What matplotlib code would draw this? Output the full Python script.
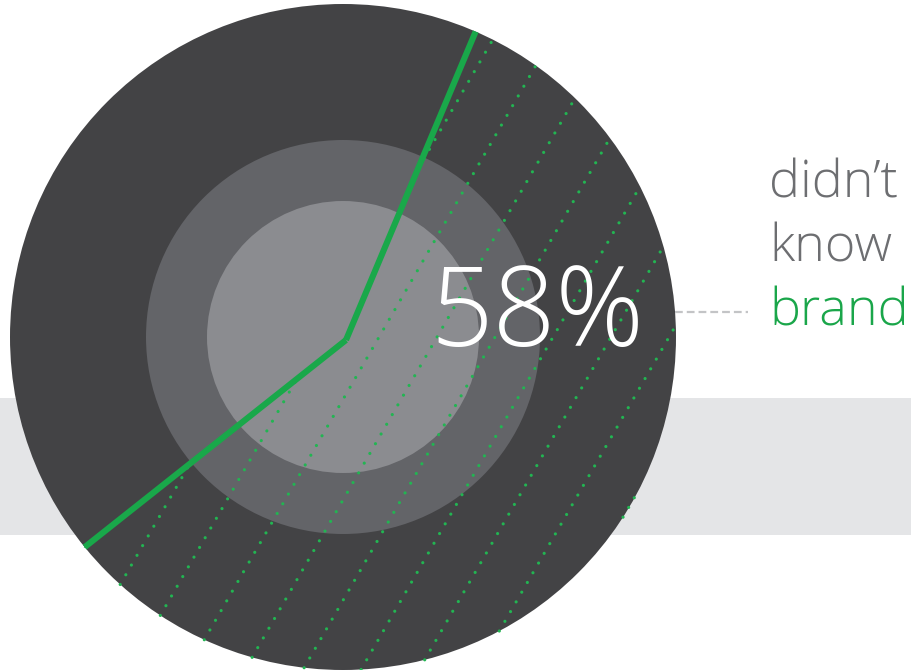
import matplotlib
matplotlib.use("Agg")
import matplotlib.pyplot as plt
from matplotlib import font_manager
from matplotlib.patches import Circle, Rectangle
import numpy as np

# ---- data ----
shares = [58, 42]                      # % didn't know brand / rest
caption_lines = ["didn\u2019t", "know", "brand"]
caption_colors = ["#6d6e71", "#6d6e71", "#1aa64a"]

# ---- font selection ----
def pick_family(cands, maxw):
    for fam in cands:
        for f in font_manager.fontManager.ttflist:
            if f.name == fam and isinstance(f.weight, int) and f.weight <= maxw:
                return fam, f.weight
    return cands[0], "normal"

light_fam, light_w = pick_family(["Open Sans", "Lato", "Roboto", "Noto Sans"], 300)

W, H = 912, 670
fig = plt.figure(figsize=(9.12, 6.7), dpi=100)
ax = fig.add_axes([0, 0, 1, 1])

def Y(y):
    return H - y

cx, cy = 343, Y(337)
vx, vy = 346, Y(340)
R_out, R_mid, R_in = 333, 197, 136

# background band
ax.add_patch(Rectangle((0, Y(535)), W, 535 - 398, facecolor="#e4e5e7",
                       edgecolor="none", zorder=0))
# concentric discs
for r, c in [(R_out, "#434345"), (R_mid, "#636468"), (R_in, "#8b8c90")]:
    ax.add_patch(Circle((cx, cy), r, facecolor=c, edgecolor="none", zorder=1))

# pie wedge for the 58% share (used for geometry + clipping)
wedges, _ = ax.pie(shares, radius=R_out + 8, center=(vx, vy), startangle=67.2,
                   counterclock=False, frame=True,
                   wedgeprops=dict(facecolor="none", edgecolor="none", zorder=2))
w = wedges[0]

# dotted hatch lines inside the wedge
ang = np.deg2rad(60)
d = np.array([np.cos(ang), np.sin(ang)])
c0 = np.array([cx, cy])
for k in range(-14, 14):
    p0 = np.array([175 + 58 * k, Y(590)], dtype=float)
    o = p0 - c0
    b = o @ d
    disc = b * b - (o @ o - R_out ** 2)
    if disc <= 0:
        continue
    t1, t2 = -b - np.sqrt(disc), -b + np.sqrt(disc)
    a_pt, b_pt = p0 + t1 * d, p0 + t2 * d
    ln, = ax.plot([a_pt[0], b_pt[0]], [a_pt[1], b_pt[1]], color="#22b552",
                  lw=2.3, linestyle=(0, (0.01, 3.5)), dash_capstyle="round",
                  zorder=3)
    ln.set_clip_path(w)

# green radial boundaries
for th in (w.theta1, w.theta2):
    u = np.array([np.cos(np.deg2rad(th)), np.sin(np.deg2rad(th))])
    o = np.array([vx, vy]) - c0
    b = o @ u
    t = -b + np.sqrt(b * b - (o @ o - R_out ** 2))
    ax.plot([vx, vx + t * u[0]], [vy, vy + t * u[1]], color="#19a84a",
            lw=4.4, solid_capstyle="butt", zorder=4)

# percentage label
ax.text(537, Y(317), f"{shares[0]}%", color="white", fontsize=79,
        family=light_fam, fontweight=light_w, ha="center", va="center",
        zorder=5)

# leader line
ax.plot([675, 748], [Y(312), Y(312)], color="#c3c4c6", lw=1.6,
        linestyle=(0, (3.5, 1.8)), zorder=2)

# caption
for i, (txt, col) in enumerate(zip(caption_lines, caption_colors)):
    ax.text(769, Y(198 + 64 * i), txt, color=col, fontsize=37.5,
            family=light_fam, fontweight=light_w, ha="left", va="baseline",
            zorder=5)

ax.set_xlim(0, W)
ax.set_ylim(0, H)
ax.set_aspect("equal")
ax.axis("off")
fig.savefig("out.png", dpi=100)
